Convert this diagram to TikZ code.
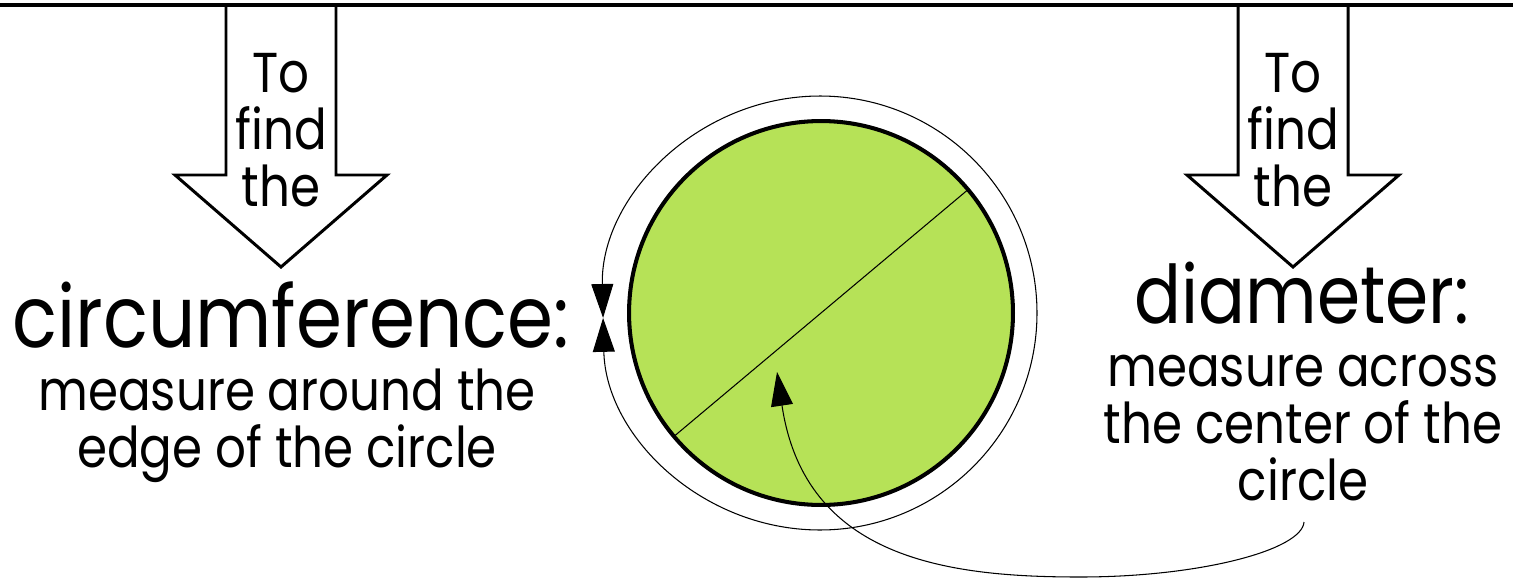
\documentclass[tikz,border=0pt]{standalone}
\usepackage{fontspec}
\setmainfont{Poppins}[FakeStretch=0.86]
\usetikzlibrary{arrows.meta}
\definecolor{discgreen}{RGB}{182,226,87}

\begin{document}
\begin{tikzpicture}[x=0.02cm, y=-0.02cm, line join=miter,
  >={Triangle[length=19.3pt, width=12.5pt]},
  note/.style={font=\fontsize{32}{32.4}\selectfont, align=center, inner sep=0pt, anchor=base},
  headword/.style={inner sep=0pt, anchor=base},
  thinline/.style={line width=0.6pt}]
  \useasboundingbox (0,0) rectangle (1513,578);
  % top rule
  \draw[line width=2pt] (0,5) -- (1513,5);
  % the two block arrows with their text
  \foreach \cx/\nm in {281/l, 1293/r} {
    \draw[line width=1.7pt] (\cx-55,5) -- (\cx-55,175) -- (\cx-106,175) -- (\cx,267)
      -- (\cx+106,175) -- (\cx+55,175) -- (\cx+55,5);
    \foreach \w [count=\i] in {To,find,the}
      \node[note] (\nm\i) at (\cx,35+57*\i) {\w};
  }
  % the circle
  \coordinate (ctr) at (820,313);
  \node[circle, draw, line width=2.3pt, fill=discgreen, minimum size=7.68cm,
    inner sep=0pt, outer sep=0pt] (disc) at (821,313) {};
  \draw[thinline, <->] ([shift={(178.7:217)}]ctr) arc[start angle=178.7, end angle=-181.3, radius=217];
  \draw[thinline] (disc.40) -- (disc.220);
  % pointer to the diameter
  \coordinate (tail) at (1304,522);
  \coordinate (aim) at (777,372);
  \draw[thinline, ->] (tail) .. controls (1302,550) and (1200,577) .. (1080,577)
    .. controls (950,577) and (805,560) .. (aim);
  % labels (base = last line)
  \node[headword, font=\fontsize{49}{49}\selectfont] (circ) at (291,347) {circumference:};
  \node[note] (circtxt) at (287,467) {measure around the\\edge of the circle};
  \node[headword, font=\fontsize{46}{46}\selectfont] (diam) at (1302,323) {diameter:};
  \node[note] (diamtxt) at (1303,500) {measure across\\the center of the\\circle};
\end{tikzpicture}
\end{document}
